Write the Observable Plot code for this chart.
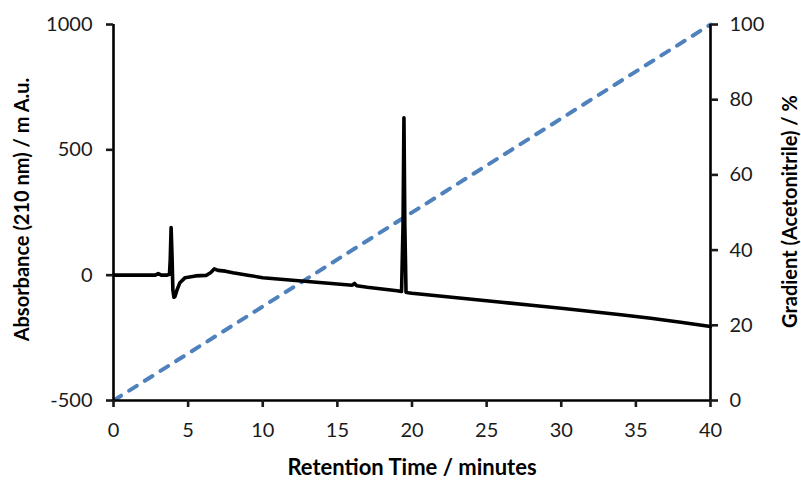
<!DOCTYPE html>
<html>
<head>
<meta charset="utf-8">
<script src="https://cdn.jsdelivr.net/npm/d3@7"></script>
<script src="https://cdn.jsdelivr.net/npm/@observablehq/plot@0.6"></script>
<style>
  html, body { margin: 0; padding: 0; background: #fff; }
  #chart svg { display: block; }
</style>
</head>
<body>
<div id="chart"></div>
<script>
// Chromatogram: retention time (min) and absorbance (mAU)
const times = [0, 1, 2, 2.8, 3.0, 3.2, 3.6, 3.75, 3.8, 3.86, 3.92, 3.98, 4.05, 4.12, 4.25, 4.45, 4.8, 5.5, 6.2, 6.5, 6.75, 7.0, 7.5, 8, 9, 10, 11, 12, 13, 14, 15, 16, 16.15, 16.3, 17, 18, 19, 19.3, 19.4, 19.46, 19.52, 19.6, 19.75, 20, 22, 24, 26, 28, 30, 32, 34, 36, 38, 40];
const absorbance = [0, 0, 0, 0, 6, 0, 0, 3, 60, 190, 80, -60, -88, -85, -60, -30, -10, -3, -1, 10, 25, 19, 16, 10, 0, -10, -15, -20, -25, -30, -35, -40, -33, -42, -48, -55, -62, -65, 200, 628, 200, -68, -70, -72, -84, -96, -108, -120, -132, -145, -158, -172, -188, -205];
// Gradient (% acetonitrile)
const gradTime = [0, 40];
const gradPct = [0, 100];
// Tick labels
const xTicks = [0, 5, 10, 15, 20, 25, 30, 35, 40];
const yTicks = [-500, 0, 500, 1000];
const gTicks = [0, 20, 40, 60, 80, 100];

const chrom = times.map((t, i) => ({t, a: absorbance[i]}));
const grad = gradTime.map((t, i) => ({t, g: gradPct[i]}));
// map gradient % onto the left-axis domain [-500, 1000]
const g2y = g => -500 + g * 15;

const font = "Lato, 'Open Sans', sans-serif";

const plot = Plot.plot({
  width: 801,
  height: 483,
  marginLeft: 113,
  marginRight: 91,
  marginTop: 24,
  marginBottom: 83,
  style: {fontFamily: font, fontSize: "20px", color: "#1a1a1a", background: "#fff", overflow: "visible"},
  x: {domain: [0, 40]},
  y: {domain: [-500, 1000]},
  marks: [
    Plot.line(grad, {x: "t", y: d => g2y(d.g), stroke: "#4f81bd", strokeWidth: 4, strokeDasharray: "9,9.5", strokeLinecap: "round"}),
    Plot.line(chrom, {x: "t", y: "a", stroke: "#000", strokeWidth: 3.6, strokeLinejoin: "round", curve: "linear"}),
    Plot.ruleX([0, 40], {stroke: "#000", strokeWidth: 2.6}),
    Plot.ruleY([-500], {stroke: "#000", strokeWidth: 2.6, x1: 0, x2: 40}),
    Plot.axisX({ticks: xTicks, tickSize: 7, tickPadding: 15, strokeWidth: 2.6, tickFormat: d => String(d), label: null, fontSize: 20}),
    Plot.axisY({ticks: yTicks, tickSize: 7, tickPadding: 14, strokeWidth: 2.6, tickFormat: d => String(d), label: null, fontSize: 20}),
    Plot.axisY({anchor: "right", ticks: gTicks.map(g2y), tickSize: 7, tickPadding: 12, strokeWidth: 2.6, tickFormat: d => String(Math.round((d + 500) / 15)), label: null, fontSize: 20}),
    Plot.text(["Retention Time / minutes"], {frameAnchor: "bottom", dy: 67, lineAnchor: "middle", textAnchor: "middle", fontWeight: "bold", fontSize: 22, fill: "#000"}),
    Plot.text(["Absorbance (210 nm) / m A.u."], {frameAnchor: "left", dx: -91, dy: -3, rotate: -90, lineAnchor: "middle", textAnchor: "middle", fontWeight: "bold", fontSize: 20, fill: "#000"}),
    Plot.text(["Gradient (Acetonitrile) / %"], {frameAnchor: "right", dx: 80, dy: -1, rotate: -90, lineAnchor: "middle", textAnchor: "middle", fontWeight: "bold", fontSize: 20, fill: "#000"})
  ]
});
document.getElementById("chart").appendChild(plot);
</script>
</body>
</html>
